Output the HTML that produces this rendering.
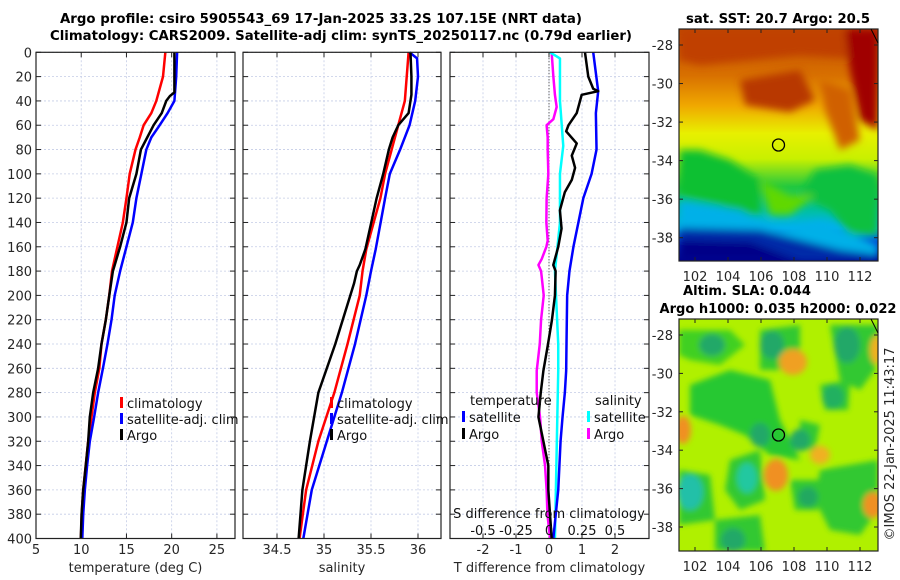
<!DOCTYPE html>
<html><head><meta charset="utf-8">
<style>
html,body{margin:0;padding:0;background:#fff;}
svg{display:block;font-family:"DejaVu Sans","Liberation Sans",sans-serif;}
</style></head>
<body>
<svg id="chart" width="900" height="580" viewBox="0 0 900 580" xmlns="http://www.w3.org/2000/svg">
<defs>
<filter id="blur4" x="-10%" y="-10%" width="120%" height="120%"><feGaussianBlur stdDeviation="4"/></filter>
<filter id="blur3" x="-20%" y="-20%" width="140%" height="140%"><feGaussianBlur stdDeviation="3"/></filter>
<clipPath id="clipTop"><rect x="679" y="29" width="199" height="232"/></clipPath>
<clipPath id="clipBot"><rect x="679" y="319" width="199" height="232"/></clipPath>
<linearGradient id="sstGrad" x1="0" y1="0" x2="0" y2="1">
<stop offset="0" stop-color="#c04a00"/><stop offset="0.2" stop-color="#d87000"/>
<stop offset="0.33" stop-color="#f0a800"/><stop offset="0.45" stop-color="#e8f000"/>
<stop offset="0.56" stop-color="#c8f000"/><stop offset="0.68" stop-color="#20c840"/>
<stop offset="0.78" stop-color="#00c0a0"/><stop offset="0.86" stop-color="#00b0f0"/>
<stop offset="0.92" stop-color="#0040d0"/><stop offset="1" stop-color="#000090"/>
</linearGradient>
</defs>
<g font-weight="bold" font-size="13" fill="#000">
<text x="321" y="23" text-anchor="middle" textLength="522" lengthAdjust="spacingAndGlyphs">Argo profile: csiro 5905543_69 17-Jan-2025 33.2S 107.15E (NRT data)</text>
<text x="341" y="40" text-anchor="middle" textLength="582" lengthAdjust="spacingAndGlyphs">Climatology: CARS2009. Satellite-adj clim: synTS_20250117.nc (0.79d earlier)</text>
</g>
<g id="panels"></g>
<g id="maps">
 <g clip-path="url(#clipTop)">
  <rect x="679" y="29" width="199" height="232" fill="url(#sstGrad)"/>
  <g filter="url(#blur4)">
   <path d="M740 80 L800 70 L815 100 L790 112 L745 105Z" fill="#b83800"/>
   <path d="M679 29 L878 29 L878 60 L800 55 L700 65 L679 60Z" fill="#c04000"/>
   <path d="M845 29 L878 29 L878 130 L860 120 L850 70Z" fill="#a00000"/>
   <path d="M820 80 L850 90 L860 140 L840 150 L825 110Z" fill="#d06000"/>
   <path d="M679 150 L700 150 L730 160 L760 180 L760 215 L740 215 L720 205 L679 195Z" fill="#10c030"/>
   <path d="M815 170 L850 165 L878 175 L878 235 L850 235 L830 210 L800 195Z" fill="#10c040"/>
   <path d="M760 180 L790 195 L815 195 L790 215 L770 215Z" fill="#60d800"/>
   <path d="M679 200 L740 210 L780 230 L820 220 L878 245 L878 261 L679 261Z" fill="#00b0e8"/>
   <path d="M679 228 L760 230 L840 250 L878 255 L878 261 L679 261Z" fill="#002aa8"/>
   <path d="M679 240 L750 242 L800 261 L679 261Z" fill="#000088"/>
  </g>
 </g>
 <g clip-path="url(#clipBot)">
  <rect x="679" y="319" width="199" height="232" fill="#b0f000"/>
  <g filter="url(#blur3)">
   <path d="M679 330 L730 330 L745 345 L720 365 L690 360 L679 355Z" fill="#40d020"/>
   <path d="M760 330 L800 325 L800 350 L780 370 L760 370Z" fill="#30c830"/>
   <path d="M830 325 L878 325 L875 370 L860 390 L840 380Z" fill="#30c830"/>
   <path d="M690 385 L730 370 L770 380 L780 420 L790 440 L800 460 L770 455 L745 435 L720 425 L690 415Z" fill="#28c830"/>
   <path d="M800 420 L820 425 L815 450 L800 450Z" fill="#30c830"/>
   <path d="M820 385 L850 380 L848 410 L825 410Z" fill="#30c830"/>
   <path d="M730 460 L760 450 L765 500 L740 510 L725 490Z" fill="#30c830"/>
   <path d="M679 470 L710 475 L715 520 L679 525Z" fill="#30c830"/>
   <path d="M820 470 L878 460 L878 510 L860 535 L830 530 L815 500Z" fill="#30c830"/>
   <path d="M715 520 L760 515 L765 551 L715 551Z" fill="#30c830"/>
   <path d="M790 480 L820 480 L818 510 L795 510Z" fill="#30c830"/>
   <ellipse cx="712" cy="345" rx="13" ry="11" fill="#20a868"/>
   <ellipse cx="772" cy="345" rx="12" ry="14" fill="#20a868"/>
   <ellipse cx="847" cy="345" rx="13" ry="18" fill="#20a868"/>
   <ellipse cx="793" cy="362" rx="14" ry="13" fill="#f0a020"/>
   <ellipse cx="876" cy="350" rx="6" ry="14" fill="#f0b020"/>
   <ellipse cx="833" cy="397" rx="11" ry="12" fill="#20b060"/>
   <ellipse cx="760" cy="435" rx="10" ry="12" fill="#20a868"/>
   <ellipse cx="800" cy="440" rx="10" ry="11" fill="#20a868"/>
   <ellipse cx="683" cy="430" rx="8" ry="14" fill="#f09020"/>
   <ellipse cx="776" cy="475" rx="12" ry="16" fill="#f09020"/>
   <ellipse cx="820" cy="455" rx="10" ry="9" fill="#f0b020"/>
   <ellipse cx="747" cy="478" rx="10" ry="15" fill="#20c8a0"/>
   <ellipse cx="690" cy="492" rx="13" ry="18" fill="#20c0a8"/>
   <ellipse cx="808" cy="497" rx="10" ry="10" fill="#20a860"/>
   <ellipse cx="873" cy="505" rx="10" ry="13" fill="#f09020"/>
   <ellipse cx="733" cy="540" rx="12" ry="12" fill="#20a868"/>
  </g>
 </g>
</g>
</svg>
<script>
// ---------- data ----------
const tDepthClim = [0,20,40,50,60,70,80,100,120,140,160,180,200,220,240,260,280,300,320,340,360,380,400];
const tClim      = [19.3,19.04,18.3,17.75,16.9,16.47,16.0,15.36,15.0,14.6,14.0,13.4,13.1,12.72,12.24,12.0,11.5,11.14,10.77,10.5,10.22,10.05,9.97];
const tSat       = [20.6,20.5,20.3,19.55,18.67,17.75,17.2,16.65,16.1,15.7,15.0,14.3,13.7,13.35,12.9,12.4,11.87,11.43,10.95,10.65,10.4,10.22,10.12];
const tDepthArgo = [0,33,36,40,50,60,70,80,100,120,140,160,180,200,220,240,260,280,300,320,340,360,380,400];
const tArgo      = [20.3,20.3,19.8,19.4,18.9,18.0,17.3,16.6,16.1,15.3,15.0,14.3,13.5,13.1,12.72,12.24,11.87,11.32,10.95,10.77,10.5,10.22,10.04,9.95];

const sDepth = [0,20,40,60,80,100,120,162,180,200,240,280,320,360,400];
const sClim  = [35.9,35.88,35.86,35.79,35.72,35.65,35.6,35.45,35.41,35.38,35.25,35.11,34.94,34.81,34.74];
const sDepthSat = [0,5,20,40,60,80,100,120,162,180,200,240,280,320,360,400];
const sSat   = [35.91,35.99,36.0,35.97,35.91,35.81,35.7,35.65,35.55,35.5,35.45,35.33,35.19,35.03,34.87,34.78];
const sDepthArgo = [0,20,35,50,60,70,80,100,120,162,175,180,190,200,240,280,320,360,400];
const sArgo  = [35.92,35.93,35.93,35.9,35.79,35.73,35.69,35.63,35.56,35.44,35.38,35.35,35.32,35.28,35.12,34.94,34.85,34.77,34.73];

const dDepthTSat = [0,32,50,80,100,120,140,160,180,200,240,262,280,300,320,360,400];
const dTSat      = [1.34,1.49,1.42,1.44,1.29,1.04,0.89,0.74,0.62,0.55,0.53,0.52,0.48,0.41,0.35,0.28,0.13];
const dDepthTArgo = [0,20,30,32,35,40,50,60,65,75,85,95,105,115,130,145,160,175,180,200,220,240,262,280,300,320,340,360,380,400];
const dTArgo      = [1.09,1.19,1.34,1.49,0.99,0.94,0.84,0.59,0.52,0.84,0.69,0.79,0.69,0.48,0.33,0.38,0.28,0.13,0.2,0.18,0.09,-0.03,-0.17,-0.25,-0.32,-0.17,-0.02,-0.02,0.03,0.08];
const dDepthSSat = [0,5,40,77,100,140,180,200,240,262,300,400];
const dSSat      = [0.008,0.083,0.083,0.108,0.083,0.083,0.045,0.053,0.07,0.07,0.063,0.045];
const dDepthSArgo = [0,20,35,45,55,60,70,80,100,120,140,155,160,170,175,180,200,220,240,262,280,300,320,340,360,380,400];
const dSArgo      = [0.02,0.033,0.045,0.058,0.033,-0.018,-0.01,-0.01,-0.005,-0.018,-0.02,-0.01,-0.02,-0.055,-0.08,-0.06,-0.04,-0.06,-0.07,-0.093,-0.093,-0.068,-0.055,-0.03,-0.018,-0.012,0.008];

const depthTicks = [0,20,40,60,80,100,120,140,160,180,200,220,240,260,280,300,320,340,360,380,400];
const tTicks = [5,10,15,20,25];
const sTicks = [34.5,35,35.5,36];
const dTTicks = [-2,-1,0,1,2];
const dSTickLabels = ["-0.5","-0.25","0","0.25","0.5"];
const dSTickVals = [-0.5,-0.25,0,0.25,0.5];
const latTicks = [-28,-30,-32,-34,-36,-38];
const lonTicks = [102,104,106,108,110,112];

// ---------- helpers ----------
const NS = "http://www.w3.org/2000/svg";
const root = document.getElementById('panels');
function mk(tag, attrs, parent){ const e=document.createElementNS(NS,tag); for(const k in attrs) e.setAttribute(k,attrs[k]); (parent||root).appendChild(e); return e; }
function txt(s, attrs, parent){ const e=mk('text',attrs,parent); e.textContent=s; return e; }
const Y0=52.3, Y1=538.5;
const yScale = d => Y0 + d/400*(Y1-Y0);

function panel(name, x0, x1, xmin, xmax, xticks, xlabels, title, showY){
  const g = mk('g',{});
  
  
  const xs = v => x0 + (v-xmin)/(xmax-xmin)*(x1-x0);
  mk('rect',{x:x0,y:Y0,width:x1-x0,height:Y1-Y0,fill:'#fff'},g);
  const grid = mk('g',{stroke:'#c4cce6','stroke-width':0.8,'stroke-dasharray':'2,2'},g);
  
  
  depthTicks.forEach(d=>{ mk('line',{x1:x0,x2:x1,y1:yScale(d),y2:yScale(d)},grid);
    mk('line',{x1:x0,x2:x0+5,y1:yScale(d),y2:yScale(d),stroke:'#222','stroke-dasharray':'none'},g);
    mk('line',{x1:x1-5,x2:x1,y1:yScale(d),y2:yScale(d),stroke:'#222','stroke-dasharray':'none'},g);
  });
  xticks.forEach(v=>{ mk('line',{x1:xs(v),x2:xs(v),y1:Y0,y2:Y1},grid);
    mk('line',{x1:xs(v),x2:xs(v),y1:Y1-5,y2:Y1,stroke:'#222'},g);
    mk('line',{x1:xs(v),x2:xs(v),y1:Y0,y2:Y0+5,stroke:'#222'},g);
  });
  const xl = mk('g',{'font-size':13,fill:'#262626','text-anchor':'middle'},g);
  
  
  xticks.forEach((v,i)=> txt(String(xlabels[i]),{x:xs(v),y:554},xl));
  const t = txt(title,{x:(x0+x1)/2,y:572,'font-size':13,fill:'#262626','text-anchor':'middle'},g);
  
  
  if(showY){
    const yl = mk('g',{'font-size':13,fill:'#262626','text-anchor':'end'},g);
    
    
    depthTicks.forEach(d=> txt(String(d),{x:x0-4,y:yScale(d)+5},yl));
  }
  return {g, xs};
}
function series(p, name, depths, vals, color, w, xsFn){
  const xs = xsFn || p.xs;
  const pts = depths.map((d,i)=> xs(vals[i]).toFixed(2)+','+yScale(d).toFixed(2)).join(' ');
  const l = mk('polyline',{points:pts,fill:'none',stroke:color,'stroke-width':w,'stroke-linejoin':'round'},p.g);
  
  
}
function frame(p,x0,x1){ mk('rect',{x:x0,y:Y0,width:x1-x0,height:Y1-Y0,fill:'none',stroke:'#222','stroke-width':1.2},p.g); }
function legendItem(parent, x, y, color, label, name){
  const g = mk('g',{},parent);
  
  
  mk('rect',{x:x,y:y-11,width:3,height:11,fill:color},g);
  txt(label,{x:x+7,y:y,'font-size':13,fill:'#111'},g);
}

// Panel 1: temperature
const p1 = panel('temperature-panel',36,235,5,27.0,tTicks,tTicks,'temperature (deg C)',true);
series(p1,'temperature-climatology-line',tDepthClim,tClim,'#ff0000',2.5);
series(p1,'temperature-satellite-line',tDepthClim,tSat,'#0000ff',2.5);
series(p1,'temperature-argo-line',tDepthArgo,tArgo,'#000',2.5);
frame(p1,36,235);
const lg1 = mk('g',{},p1.g);  
legendItem(lg1,120,408,'#ff0000','climatology','legend-climatology');
legendItem(lg1,120,424,'#0000ff','satellite-adj. clim','legend-satellite-adj-clim');
legendItem(lg1,120,440,'#000','Argo','legend-argo');

// Panel 2: salinity
const p2 = panel('salinity-panel',243,441,34.5-34/94,34.5+(441-277)/94,sTicks,sTicks,'salinity',false);
series(p2,'salinity-climatology-line',sDepth,sClim,'#ff0000',2.5);
series(p2,'salinity-satellite-line',sDepthSat,sSat,'#0000ff',2.5);
series(p2,'salinity-argo-line',sDepthArgo,sArgo,'#000',2.5);
frame(p2,243,441);
const lg2 = mk('g',{},p2.g);  
legendItem(lg2,330,408,'#ff0000','climatology','legend-climatology');
legendItem(lg2,330,424,'#0000ff','satellite-adj. clim','legend-satellite-adj-clim');
legendItem(lg2,330,440,'#000','Argo','legend-argo');

// Panel 3: differences
const p3 = panel('difference-panel',450,649,-3,3.03,dTTicks,dTTicks,'T difference from climatology',false);
const xsS = v => 549 + v*132;
mk('line',{x1:549,x2:549,y1:Y0,y2:Y1,stroke:'#333','stroke-width':1,'stroke-dasharray':'1,2'},p3.g);
series(p3,'salinity-argo-diff-line',dDepthSArgo,dSArgo,'#ff00ff',2.5,xsS);
series(p3,'salinity-satellite-diff-line',dDepthSSat,dSSat,'#00ffff',2.5,xsS);
series(p3,'temperature-satellite-diff-line',dDepthTSat,dTSat,'#0000ff',2.5);
series(p3,'temperature-argo-diff-line',dDepthTArgo,dTArgo,'#000',2.5);
frame(p3,450,649);
const lg3 = mk('g',{},p3.g);  
txt('temperature',{x:470,y:405,'font-size':13,fill:'#111'},lg3);
txt('salinity',{x:595,y:405,'font-size':13,fill:'#111'},lg3);
legendItem(lg3,462,422,'#0000ff','satellite','legend-temperature-satellite');
legendItem(lg3,462,439,'#000','Argo','legend-temperature-argo');
legendItem(lg3,587,422,'#00ffff','satellite','legend-salinity-satellite');
legendItem(lg3,587,439,'#ff00ff','Argo','legend-salinity-argo');
const sAx = mk('g',{'font-size':13,fill:'#111'},p3.g);


txt('S difference from climatology',{x:549,y:518,'text-anchor':'middle'},sAx);
dSTickVals.forEach((v,i)=> txt(dSTickLabels[i],{x:xsS(v),y:535,'text-anchor':'middle'},sAx));

// ---------- maps axes ----------
const maps = document.getElementById('maps');
function mapAxes(name, top, bottom, lat28y, lat38y, circleY, lonY){
  const g = mk('g',{},maps);
  
  
  const ly = lat => lat28y + (-28-lat)/10*(lat38y-lat28y);
  const lx = lon => 695 + (lon-102)/10*165;
  latTicks.forEach(l=>{ const y=ly(l);
    mk('line',{x1:679,x2:683,y1:y,y2:y,stroke:'#222'},g); mk('line',{x1:874,x2:878,y1:y,y2:y,stroke:'#222'},g);
    txt(String(l),{x:673,y:y+5,'font-size':13,fill:'#262626','text-anchor':'end'},g); });
  lonTicks.forEach(l=>{ const x=lx(l);
    mk('line',{x1:x,x2:x,y1:bottom-4,y2:bottom,stroke:'#222'},g); mk('line',{x1:x,x2:x,y1:top,y2:top+4,stroke:'#222'},g);
    txt(String(l),{x:x,y:lonY,'font-size':13,fill:'#262626','text-anchor':'middle'},g); });
  mk('rect',{x:679,y:top,width:199,height:bottom-top,fill:'none',stroke:'#222','stroke-width':1.2},g);
  mk('line',{x1:871,y1:top,x2:878,y2:top+14,stroke:'#000','stroke-width':1},g);
  const c = mk('circle',{cx:778.5,cy:circleY,r:6,fill:'none',stroke:'#000','stroke-width':1.3},g);
  
  
}
mapAxes('sst-map',29,261,45,237.7,145,281);
mapAxes('sla-map',319,551,335,527,435,571);
const mt = mk('g',{'font-size':13,'font-weight':'bold',fill:'#000'},maps);


txt('sat. SST: 20.7 Argo: 20.5',{x:778,y:23,'text-anchor':'middle',textLength:184,lengthAdjust:'spacingAndGlyphs'},mt);
txt('Altim. SLA: 0.044',{x:747,y:295,'text-anchor':'middle',textLength:128,lengthAdjust:'spacingAndGlyphs'},mt);
txt('Argo h1000: 0.035 h2000: 0.022',{x:778,y:313,'text-anchor':'middle',textLength:237,lengthAdjust:'spacingAndGlyphs'},mt);
const cr = txt('©IMOS 22-Jan-2025 11:43:17',{x:0,y:0,'font-size':13,fill:'#262626','text-anchor':'middle',transform:'translate(894,444) rotate(-90)'},maps);


</script>
</body></html>
